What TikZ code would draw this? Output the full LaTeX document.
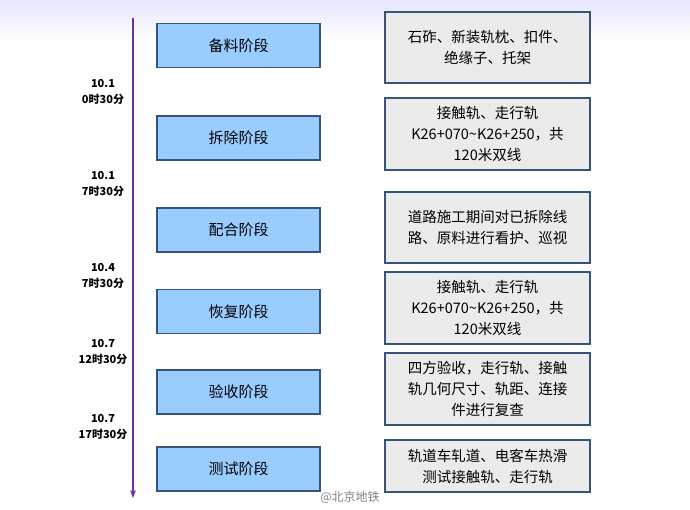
\documentclass[tikz,border=0pt]{standalone}
\usepackage{fontspec}
\newfontfamily\cjk{Noto Sans CJK SC}
\usetikzlibrary{arrows.meta}
\definecolor{stagebl}{RGB}{153,204,255}
\definecolor{stageln}{RGB}{55,85,120}
\definecolor{notebg}{RGB}{235,235,235}
\definecolor{axisln}{RGB}{112,48,160}
\tikzset{
  stage/.style={draw=stageln,line width=1.5pt,fill=stagebl,minimum width=163pt,minimum height=44pt,font=\cjk\fontsize{15}{17}\selectfont},
  note/.style={draw=stageln,line width=1.5pt,fill=notebg,minimum width=205pt,align=center,font=\cjk\fontsize{14.5}{21}\selectfont},
  when/.style={font=\cjk\bfseries\fontsize{11}{16}\selectfont,align=center}
}
\begin{document}
\begin{tikzpicture}[x=1pt,y=-1pt]
\useasboundingbox (0,0) rectangle (690,510);
\shade[top color=blue!10,bottom color=white] (0,0) rectangle (690,40);
\coordinate (top) at (133,18);
\coordinate (bot) at (133,498);
\draw[axisln,line width=1.5pt,-{Stealth[length=8pt]}] (top) -- (bot);
% stages
\node[stage] (s1) at (238.5,45.5) {备料阶段};
\node[stage] (s2) at (238.5,138) {拆除阶段};
\node[stage] (s3) at (238.5,230) {配合阶段};
\node[stage] (s4) at (238.5,311.5) {恢复阶段};
\node[stage] (s5) at (238.5,392) {验收阶段};
\node[stage] (s6) at (238.5,469) {测试阶段};
% notes
\node[note,minimum height=71pt] (n1) at (487.5,47.5) {石砟、新装轨枕、扣件、\\绝缘子、托架};
\node[note,minimum height=72pt] (n2) at (487.5,134) {接触轨、走行轨\\K26+070\textasciitilde K26+250，共\\120米双线};
\node[note,minimum height=71pt] (n3) at (487.5,227.5) {道路施工期间对已拆除线\\路、原料进行看护、巡视};
\node[note,minimum height=72pt] (n4) at (487.5,308) {接触轨、走行轨\\K26+070\textasciitilde K26+250，共\\120米双线};
\node[note,minimum height=72pt] (n5) at (487.5,389) {四方验收，走行轨、接触\\轨几何尺寸、轨距、连接\\件进行复查};
\node[note,minimum height=52pt] (n6) at (487.5,466) {轨道车轧道、电客车热滑\\测试接触轨、走行轨};
% times
\node[when] (t1) at (103,92) {10.1\\0时30分};
\node[when] (t2) at (103,184) {10.1\\7时30分};
\node[when] (t3) at (103,276) {10.4\\7时30分};
\node[when] (t4) at (103,352) {10.7\\12时30分};
\node[when] (t5) at (103,427) {10.7\\17时30分};
\node[font=\cjk\fontsize{12}{14}\selectfont,text=gray] (wm) at (350,497) {@北京地铁};
\end{tikzpicture}
\end{document}
